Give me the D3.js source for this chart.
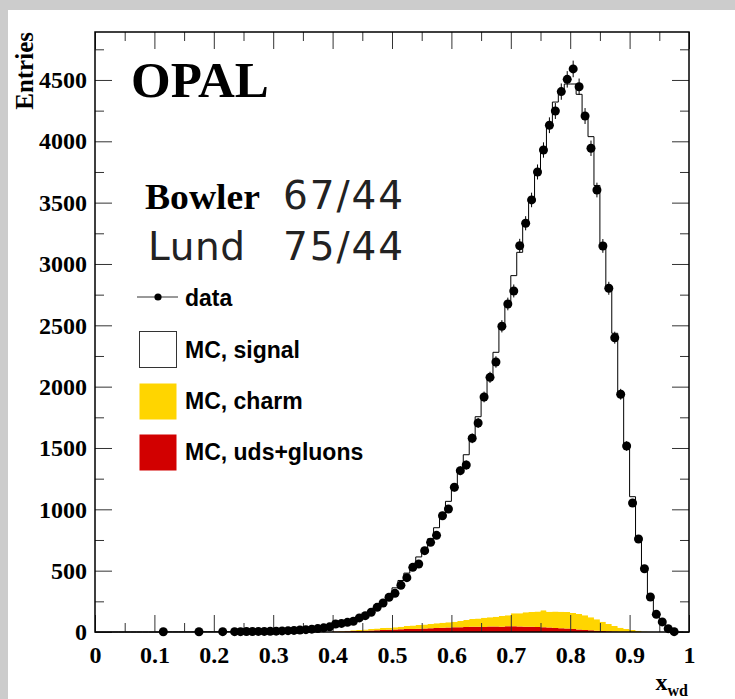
<!DOCTYPE html>
<html>
<head>
<meta charset="utf-8">
<script src="https://cdn.jsdelivr.net/npm/d3@7"></script>
<style>
  html, body { margin: 0; padding: 0; background: #cccccc; }
  svg { display: block; }
</style>
</head>
<body>
<div id="wrapper"></div>
<script>
// 100 bins of width 0.01 between 0 and 1, values listed bin by bin
const binLowEdges = d3.range(0, 100).map(i => i / 100)

const dataCounts = [
  0, 0, 0, 0, 0, 0, 0, 0, 0, 0,
  0, 2, 0, 0, 0, 0, 0, 2, 0, 0,
  0, 3, 0, 3, 3, 4, 4, 5, 5, 6,
  7, 9, 11, 13, 16, 19, 23, 28, 34, 42,
  65, 70, 79, 88, 115, 133, 161, 201, 236, 283,
  315, 381, 443, 527, 554, 663, 731, 788, 948, 1003,
  1180, 1315, 1361, 1579, 1704, 1916, 2076, 2201, 2492, 2674,
  2780, 3149, 3332, 3522, 3750, 3929, 4131, 4247, 4405, 4505,
  4590, 4445, 4206, 3943, 3603, 3147, 2802, 2399, 1938, 1516,
  1052, 758, 516, 285, 144, 82, 27, 3, 0, 0
]

// total MC (signal + charm + uds+gluons)
const mcTotal = [
  0, 0, 0, 0, 0, 0, 0, 0, 0, 0,
  0, 1, 1, 1, 1, 1, 1, 1, 2, 2,
  2, 2, 3, 3, 3, 4, 4, 5, 5, 6,
  7, 8, 10, 12, 15, 18, 22, 27, 33, 41,
  52, 62, 74, 90, 108, 130, 158, 192, 232, 305,
  360, 420, 480, 545, 612, 680, 760, 850, 955, 1065,
  1180, 1310, 1445, 1595, 1755, 1920, 2090, 2280, 2480, 2690,
  2905, 3095, 3320, 3530, 3740, 3930, 4110, 4320, 4410, 4467,
  4467, 4383, 4220, 4038, 3640, 3170, 2815, 2435, 1946, 1524,
  1103, 770, 520, 295, 150, 80, 30, 6, 1, 0
]

const mcCharm = [
  0, 0, 0, 0, 0, 0, 0, 0, 0, 0,
  0, 0, 0, 0, 0, 0, 0, 0, 0, 0,
  0, 0, 0, 0, 0, 0, 0, 0, 0, 0,
  0, 0, 0, 0, 0, 0, 0, 0, 0, 0,
  2, 4, 5, 6, 8, 10, 12, 14, 16, 16,
  18, 21, 25, 27, 30, 34, 35, 38, 41, 42,
  46, 51, 58, 64, 68, 76, 76, 80, 87, 90,
  105, 108, 117, 121, 128, 139, 130, 135, 135, 135,
  131, 126, 119, 106, 92, 76, 59, 45, 32, 22,
  15, 11, 5, 3, 0, 0, 0, 0, 0, 0
]

const mcUds = [
  0, 0, 0, 0, 0, 0, 0, 0, 0, 0,
  0, 0, 0, 0, 0, 0, 0, 0, 0, 0,
  0, 0, 0, 0, 0, 0, 0, 0, 0, 0,
  0, 0, 0, 0, 0, 0, 0, 0, 0, 0,
  4, 5, 6, 8, 9, 11, 13, 15, 17, 19,
  20, 22, 24, 25, 27, 28, 30, 33, 35, 37,
  38, 39, 40, 42, 43, 41, 44, 45, 43, 46,
  47, 44, 43, 42, 40, 38, 36, 33, 31, 28,
  24, 21, 17, 14, 11, 8, 6, 4, 3, 2,
  1, 0, 0, 0, 0, 0, 0, 0, 0, 0
]

const xMajorTicks = [0, 0.1, 0.2, 0.3, 0.4, 0.5, 0.6, 0.7, 0.8, 0.9, 1]
const xMinorTicks = [0.05, 0.15, 0.25, 0.35, 0.45, 0.55, 0.65, 0.75, 0.85, 0.95]
const yMajorTicks = [0, 500, 1000, 1500, 2000, 2500, 3000, 3500, 4000, 4500]
const yMinorTicks = [250, 750, 1250, 1750, 2250, 2750, 3250, 3750, 4250, 4750]

const legendItems = ["MC, signal", "MC, charm", "MC, uds+gluons"]
const legendColors = ["#ffffff", "#ffd500", "#d20000"]

function drawHisto(){
    const width = 735
    const height = 699

    const frame = {left: 95, right: 689, top: 32, bottom: 632}

    const svg = d3.select("#wrapper")
                  .append("svg")
                  .attr("width", width)
                  .attr("height", height)

    svg.append("rect").attr("width", width).attr("height", height).attr("fill", "#cccccc")
    svg.append("rect").attr("x", 8).attr("y", 10)
       .attr("width", width - 8).attr("height", height - 10).attr("fill", "#ffffff")

    const xScale = d3.scaleLinear().domain([0, 1]).range([frame.left, frame.right])
    const yScale = d3.scaleLinear().domain([0, 4891]).range([frame.bottom, frame.top])

    // table for the stack
    const rows = binLowEdges.map((x0, i) => ({
        x0: x0,
        uds: mcUds[i],
        charm: mcCharm[i],
        signal: Math.max(0, mcTotal[i] - mcCharm[i] - mcUds[i]),
    }))
    // closing point at x = 1 so the last bin gets its full width
    const rowsClosed = rows.concat([Object.assign({}, rows[rows.length - 1], {x0: 1})])

    const stack = d3.stack().keys(["uds", "charm", "signal"])
    const layers = stack(rowsClosed)

    const area = d3.area()
                   .curve(d3.curveStepAfter)
                   .x(d => xScale(d.data.x0))
                   .y0(d => yScale(d[0]))
                   .y1(d => yScale(d[1]))

    const layerColors = {uds: "#d20000", charm: "#ffd500", signal: "#ffffff"}

    svg.append("g")
       .selectAll("path")
       .data(layers)
       .join("path")
       .attr("d", area)
       .attr("fill", d => layerColors[d.key])

    const totalLine = d3.line()
                        .curve(d3.curveStepAfter)
                        .x(d => xScale(d.data.x0))
                        .y(d => yScale(d[1]))

    svg.append("path")
       .datum(layers[2])
       .attr("d", totalLine)
       .attr("fill", "none")
       .attr("stroke", "#000")
       .attr("stroke-width", 1)

    // axes: ticks point into the frame on all four sides
    const tickColor = "#333"
    const serif = "'Liberation Serif', 'Times New Roman', serif"

    const styleAxis = g => {
        g.select(".domain").remove()
        g.selectAll(".tick line").attr("stroke", tickColor)
        g.selectAll("text")
         .attr("fill", "#000")
         .style("font-family", serif)
         .style("font-weight", "bold")
         .style("font-size", "24px")
    }

    svg.append("g")
       .attr("transform", `translate(0,${frame.bottom})`)
       .call(d3.axisBottom(xScale).tickValues(xMajorTicks).tickSize(-17).tickPadding(14)
               .tickFormat(d3.format("~g")))
       .call(styleAxis)
    svg.append("g")
       .attr("transform", `translate(0,${frame.bottom})`)
       .call(d3.axisBottom(xScale).tickValues(xMinorTicks).tickSize(-9).tickFormat(""))
       .call(styleAxis)
    svg.append("g")
       .attr("transform", `translate(0,${frame.top})`)
       .call(d3.axisTop(xScale).tickValues(xMajorTicks).tickSize(-17).tickFormat(""))
       .call(styleAxis)
    svg.append("g")
       .attr("transform", `translate(0,${frame.top})`)
       .call(d3.axisTop(xScale).tickValues(xMinorTicks).tickSize(-9).tickFormat(""))
       .call(styleAxis)

    svg.append("g")
       .attr("transform", `translate(${frame.left},0)`)
       .call(d3.axisLeft(yScale).tickValues(yMajorTicks).tickSize(-17).tickPadding(8)
               .tickFormat(d3.format("d")))
       .call(styleAxis)
    svg.append("g")
       .attr("transform", `translate(${frame.left},0)`)
       .call(d3.axisLeft(yScale).tickValues(yMinorTicks).tickSize(-9).tickFormat(""))
       .call(styleAxis)
    svg.append("g")
       .attr("transform", `translate(${frame.right},0)`)
       .call(d3.axisRight(yScale).tickValues(yMajorTicks).tickSize(-17).tickFormat(""))
       .call(styleAxis)
    svg.append("g")
       .attr("transform", `translate(${frame.right},0)`)
       .call(d3.axisRight(yScale).tickValues(yMinorTicks).tickSize(-9).tickFormat(""))
       .call(styleAxis)

    svg.append("rect")
       .attr("x", frame.left).attr("y", frame.top)
       .attr("width", frame.right - frame.left).attr("height", frame.bottom - frame.top)
       .attr("fill", "none")
       .attr("stroke", "#000")
       .attr("stroke-width", 1.5)

    // data points with sqrt(N) errors
    const points = rows.map((r, i) => ({x: r.x0 + 0.005, n: dataCounts[i]})).filter(d => d.n > 0)

    const pts = svg.append("g")
    pts.selectAll("line")
       .data(points)
       .join("line")
       .attr("x1", d => xScale(d.x))
       .attr("x2", d => xScale(d.x))
       .attr("y1", d => yScale(d.n - Math.sqrt(d.n)))
       .attr("y2", d => yScale(d.n + Math.sqrt(d.n)))
       .attr("stroke", "#000")
       .attr("stroke-width", 1)
    pts.selectAll("circle")
       .data(points)
       .join("circle")
       .attr("cx", d => xScale(d.x))
       .attr("cy", d => yScale(d.n))
       .attr("r", 4.5)
       .attr("fill", "#000")

    // axis titles
    svg.append("text")
       .attr("transform", `translate(33,${frame.top}) rotate(-90)`)
       .attr("text-anchor", "end")
       .style("font-family", serif)
       .style("font-weight", "bold")
       .style("font-size", "25px")
       .text("Entries")

    const xTitle = svg.append("text")
       .attr("x", 688)
       .attr("y", 690)
       .attr("text-anchor", "end")
       .style("font-family", serif)
       .style("font-weight", "bold")
       .style("font-size", "24px")
    xTitle.append("tspan").text("x")
    xTitle.append("tspan").attr("dy", 6).style("font-size", "16px").text("wd")

    // labels in the frame
    svg.append("text")
       .attr("x", 131).attr("y", 97)
       .style("font-family", serif)
       .style("font-weight", "bold")
       .style("font-size", "51px")
       .text("OPAL")

    svg.append("text")
       .attr("x", 145).attr("y", 209)
       .attr("textLength", 115).attr("lengthAdjust", "spacingAndGlyphs")
       .style("font-family", serif)
       .style("font-weight", "bold")
       .style("font-size", "36px")
       .text("Bowler")

    const thinSans = "'DejaVu Sans', sans-serif"
    svg.append("text")
       .attr("x", 283).attr("y", 209)
       .attr("textLength", 120).attr("lengthAdjust", "spacing")
       .attr("fill", "#222")
       .style("font-family", thinSans)
       .style("font-size", "39px")
       .text("67/44")
    svg.append("text")
       .attr("x", 148).attr("y", 260)
       .attr("textLength", 97).attr("lengthAdjust", "spacing")
       .attr("fill", "#222")
       .style("font-family", thinSans)
       .style("font-size", "39px")
       .text("Lund")
    svg.append("text")
       .attr("x", 283).attr("y", 260)
       .attr("textLength", 120).attr("lengthAdjust", "spacing")
       .attr("fill", "#222")
       .style("font-family", thinSans)
       .style("font-size", "39px")
       .text("75/44")

    // legend
    const sans = "'Liberation Sans', Arial, sans-serif"
    const legend = svg.append("g")

    legend.append("line")
          .attr("x1", 137).attr("x2", 178).attr("y1", 297).attr("y2", 297)
          .attr("stroke", "#333").attr("stroke-width", 1)
    legend.append("circle")
          .attr("cx", 158).attr("cy", 297).attr("r", 3.6).attr("fill", "#000")
    legend.append("text")
          .attr("x", 185).attr("y", 306)
          .style("font-family", sans).style("font-weight", "bold").style("font-size", "23px")
          .text("data")

    const boxTops = [331, 383, 434]
    const textBase = [358, 409, 460]
    legend.selectAll("rect")
          .data(legendItems)
          .join("rect")
          .attr("x", 139.5)
          .attr("y", (d, i) => boxTops[i] + 0.5)
          .attr("width", 37)
          .attr("height", 36)
          .attr("fill", (d, i) => legendColors[i])
          .attr("stroke", (d, i) => i === 0 ? "#333" : "none")
    legend.selectAll("text.item")
          .data(legendItems)
          .join("text")
          .attr("class", "item")
          .attr("x", 185)
          .attr("y", (d, i) => textBase[i])
          .style("font-family", sans).style("font-weight", "bold").style("font-size", "23px")
          .text(d => d)
}

drawHisto()
</script>
</body>
</html>
